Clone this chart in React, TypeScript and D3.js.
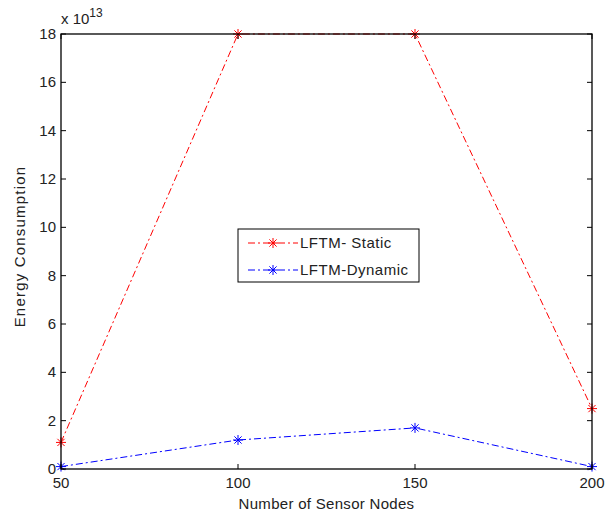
import React from "react";
import * as d3 from "d3";

// Sensor network sizes on the x axis
const nodes = [50, 100, 150, 200];
// Energy consumption, in units of 1e13
const staticEnergy = [1.1, 18, 18, 2.5];
const dynamicEnergy = [0.1, 1.2, 1.7, 0.1];
const xTicks = [50, 100, 150, 200];
const yTicks = [0, 2, 4, 6, 8, 10, 12, 14, 16, 18];

const series = [
  { name: "LFTM- Static", values: staticEnergy, color: "#ff0000" },
  { name: "LFTM-Dynamic", values: dynamicEnergy, color: "#0000ff" },
];

const W = 613;
const H = 515;
const M = { left: 61, right: 21, top: 34, bottom: 46 };
const FONT = "'Liberation Sans', Arial, sans-serif";

function Star({ x, y, color }: { x: number; y: number; color: string }) {
  const r = 5;
  const d = r * 0.72;
  return (
    <g stroke={color} strokeWidth={1}>
      <line x1={x - r} y1={y} x2={x + r} y2={y} />
      <line x1={x} y1={y - r} x2={x} y2={y + r} />
      <line x1={x - d} y1={y - d} x2={x + d} y2={y + d} />
      <line x1={x - d} y1={y + d} x2={x + d} y2={y - d} />
    </g>
  );
}

export default function App() {
  const x = d3.scaleLinear().domain([50, 200]).range([M.left, W - M.right]);
  const y = d3.scaleLinear().domain([0, 18]).range([H - M.bottom, M.top]);
  const line = d3
    .line<number>()
    .x((_, i) => x(nodes[i]))
    .y((v) => y(v));

  const x0 = x.range()[0];
  const x1 = x.range()[1];
  const y0 = y.range()[0];
  const y1 = y.range()[1];
  const tick = 5;

  const lg = { x: 238, y: 229, w: 181, h: 53 };

  return (
    <svg
      width={W}
      height={H}
      style={{ position: "absolute", left: 0, top: 0, background: "#fff" }}
      fontFamily={FONT}
    >
      <rect x={0} y={0} width={W} height={H} fill="#fff" />
      {/* data lines */}
      {series.map((s) => (
        <g key={s.name}>
          <path
            d={line(s.values) ?? ""}
            fill="none"
            stroke={s.color}
            strokeWidth={1}
            strokeDasharray="7,3,2,3"
          />
          {s.values.map((v, i) => (
            <Star key={i} x={x(nodes[i])} y={y(v)} color={s.color} />
          ))}
        </g>
      ))}
      {/* axes box */}
      <rect
        x={x0}
        y={y1}
        width={x1 - x0}
        height={y0 - y1}
        fill="none"
        stroke="#000"
        strokeWidth={1.3}
      />
      {xTicks.map((t) => (
        <g key={t}>
          <line x1={x(t)} x2={x(t)} y1={y0} y2={y0 - tick} stroke="#000" />
          <line x1={x(t)} x2={x(t)} y1={y1} y2={y1 + tick} stroke="#000" />
          <text
            x={x(t)}
            y={y0 + 19}
            textAnchor="middle"
            fontSize={15}
            fill="#222"
          >
            {t}
          </text>
        </g>
      ))}
      {yTicks.map((t) => (
        <g key={t}>
          <line x1={x0} x2={x0 + tick} y1={y(t)} y2={y(t)} stroke="#000" />
          <line x1={x1} x2={x1 - tick} y1={y(t)} y2={y(t)} stroke="#000" />
          <text
            x={x0 - 5}
            y={y(t) + 5}
            textAnchor="end"
            fontSize={15}
            fill="#222"
          >
            {t}
          </text>
        </g>
      ))}
      {/* exponent */}
      <text x={61} y={24} fontSize={15} fill="#222">
        x 10
        <tspan dy={-7} fontSize={12}>
          13
        </tspan>
      </text>
      {/* axis labels */}
      <text
        x={(x0 + x1) / 2}
        y={H - 6}
        textAnchor="middle"
        fontSize={15}
        letterSpacing={0.3}
        fill="#222"
      >
        Number of Sensor Nodes
      </text>
      <text
        transform={`translate(25,${(y0 + y1) / 2 - 5}) rotate(-90)`}
        textAnchor="middle"
        fontSize={15}
        letterSpacing={1.2}
        fill="#222"
      >
        Energy Consumption
      </text>
      {/* legend */}
      <rect
        x={lg.x}
        y={lg.y}
        width={lg.w}
        height={lg.h}
        fill="#fff"
        stroke="#000"
        strokeWidth={1}
      />
      {series.map((s, i) => {
        const cy = lg.y + 14 + i * 27;
        return (
          <g key={s.name}>
            <line
              x1={lg.x + 10}
              x2={lg.x + 60}
              y1={cy}
              y2={cy}
              stroke={s.color}
              strokeDasharray="7,3,2,3"
            />
            <Star x={lg.x + 35} y={cy} color={s.color} />
            <text
              x={lg.x + 62}
              y={cy + 5}
              fontSize={15}
              letterSpacing={0.5}
              fill="#222"
            >
              {s.name}
            </text>
          </g>
        );
      })}
    </svg>
  );
}
